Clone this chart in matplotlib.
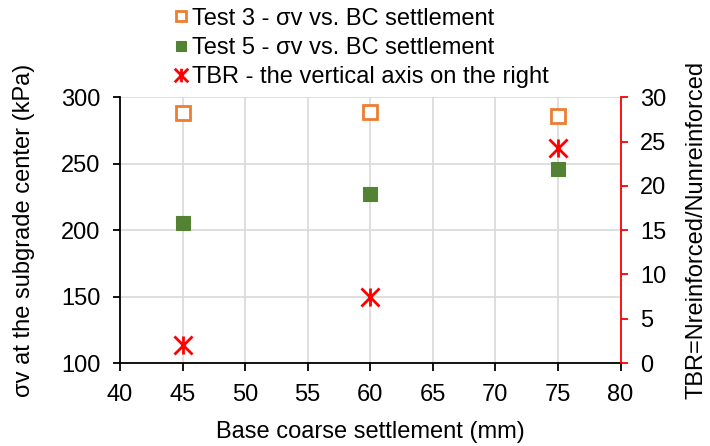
import matplotlib
matplotlib.use("Agg")
import matplotlib.pyplot as plt
from matplotlib.path import Path

plt.rcParams['font.family'] = ['Liberation Sans', 'DejaVu Sans']

settlement = [45, 60, 75]
test3_sv = [288, 289, 286]
test5_sv = [205.5, 227.5, 246]
tbr = [2.0, 7.5, 24.3]

labels = ["Test 3 - σv vs. BC settlement",
          "Test 5 - σv vs. BC settlement",
          "TBR - the vertical axis on the right"]

star = Path([(-1, -1), (1, 1), (-1, 1), (1, -1), (0, -1), (0, 1)],
            [Path.MOVETO, Path.LINETO, Path.MOVETO, Path.LINETO, Path.MOVETO, Path.LINETO])

fig = plt.figure(figsize=(7.1, 4.46), dpi=100)
ax = fig.add_axes([0.169, 0.186, 0.705, 0.596])
ax2 = ax.twinx()

h1, = ax.plot(settlement, test3_sv, linestyle='none', marker='s', markersize=10.5,
              markerfacecolor='white', markeredgecolor='#ED7D31', markeredgewidth=2, zorder=3)
h2, = ax.plot(settlement, test5_sv, linestyle='none', marker='s', markersize=10,
              markerfacecolor='#548235', markeredgecolor='#548235', markeredgewidth=0.8, zorder=3)
h3, = ax2.plot(settlement, tbr, linestyle='none', marker=star, markersize=13,
               markeredgecolor='#FF0000', markerfacecolor='none', markeredgewidth=2, zorder=3)

ax.set_xlim(40, 80)
ax.set_ylim(100, 300)
ax.set_xticks(range(40, 81, 5))
ax.set_yticks(range(100, 301, 50))
ax2.set_ylim(0, 30)
ax2.set_yticks(range(0, 31, 5))

ax.grid(True, color='#D9D9D9', linewidth=1.2)
ax.set_axisbelow(True)

for a in (ax, ax2):
    a.spines['top'].set_visible(False)
ax.spines['right'].set_visible(False)
ax2.spines['left'].set_visible(False)
ax2.spines['bottom'].set_visible(False)
ax2.spines['right'].set_color('#FF0000')
ax2.spines['right'].set_linewidth(1.3)
ax.spines['left'].set_linewidth(1.3)
ax.spines['bottom'].set_linewidth(1.3)

fs = 17
ax.tick_params(axis='y', labelsize=fs, length=5, width=1.3, color='black', direction='out', pad=9)
ax.tick_params(axis='x', labelsize=fs, length=6, width=1.3, color='black', direction='out', pad=9)
ax2.tick_params(axis='y', labelsize=fs, length=5, width=1.3, colors='#FF0000', labelcolor='black', pad=9)

ax.set_xlabel("Base coarse settlement (mm)", fontsize=fs, labelpad=11)
ax.set_ylabel("σv at the subgrade center (kPa)", fontsize=fs, labelpad=19)
ax2.set_ylabel("TBR=Nreinforced/Nunreinforced", fontsize=fs, labelpad=14)

fig.legend([h1, h2, h3], labels, loc='upper left', bbox_to_anchor=(0.242, 0.988),
           frameon=False, fontsize=fs, handletextpad=0.15, labelspacing=0.31,
           handlelength=0.6, borderaxespad=0, borderpad=0.1, markerscale=0.75)

fig.savefig("out.png", dpi=100)
